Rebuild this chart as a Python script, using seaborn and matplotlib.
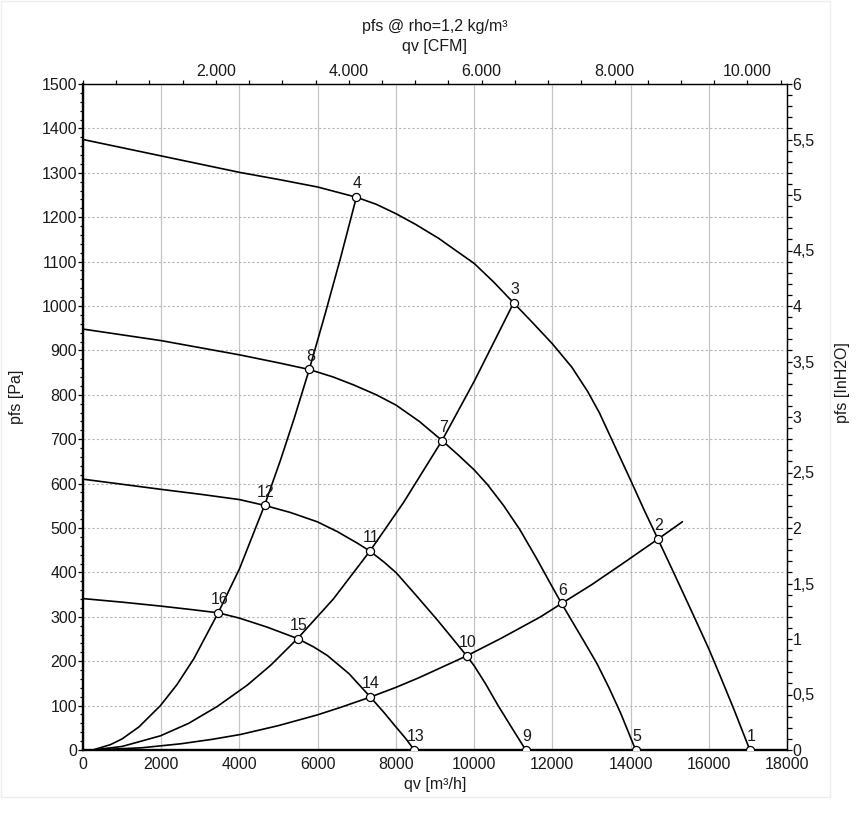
import numpy as np
import pandas as pd
import matplotlib
matplotlib.use("Agg")
import matplotlib.pyplot as plt
from matplotlib.patches import Rectangle
from matplotlib.ticker import MultipleLocator, FixedLocator, FuncFormatter
import seaborn as sns

# ---------------- data ----------------
# fan characteristic curves: qv [m3/h] -> pfs [Pa]
fan1_q = [0, 2000, 4000, 5000, 6000, 6990, 7500, 8000, 8500, 9100, 9500, 10000, 10500, 11010,
          11500, 12000, 12500, 12900, 13200, 13500, 14000, 14350, 14700, 15100, 15600, 16000,
          16300, 16650, 17050]
fan1_p = [1375, 1338, 1301, 1285, 1268, 1245, 1229, 1208, 1184, 1152, 1127, 1096, 1054, 1007,
          962, 915, 862, 808, 760, 703, 608, 540, 475, 400, 305, 228,
          165, 90, 0]

fan2_q = [0, 2000, 4000, 5000, 5785, 6400, 6926, 7500, 8000, 8600, 9180, 9600, 10000, 10340,
          10750, 11165, 11600, 12000, 12236, 12465, 12800, 13145, 13450, 13747, 14130]
fan2_p = [948, 922, 890, 872, 857, 840, 822, 800, 777, 740, 697, 664, 631, 598,
          551, 497, 431, 367, 330, 296, 246, 194, 140, 83, 0]

fan3_q = [0, 2000, 3000, 4000, 4642, 5300, 5990, 6500, 7012, 7336, 7700, 8010, 8500, 9058,
          9450, 9810, 10000, 10300, 10600, 10950, 11320]
fan3_p = [610, 587, 576, 564, 551, 535, 514, 492, 466, 448, 423, 399, 350, 293,
          251, 212, 190, 148, 102, 52, 0]

fan4_q = [0, 1000, 2000, 2800, 3457, 4000, 4700, 5486, 5900, 6245, 6800, 7340, 7700, 8000, 8250, 8470]
fan4_p = [341, 333, 324, 316, 309, 297, 277, 251, 232, 213, 172, 120, 84, 52, 26, 0]

# system curves
sysA_q = [250, 700, 1000, 1430, 1980, 2400, 2830, 3457, 4000, 4642, 5050, 5400, 5785, 6200, 6590, 6990]
sysA_p = [0, 12, 25, 52, 100, 147, 205, 309, 408, 551, 653, 747, 857, 985, 1110, 1245]

sysB_q = [250, 1000, 1982, 2700, 3432, 4199, 4800, 5486, 6400, 7336, 8200, 9180, 10000, 11010]
sysB_p = [0, 8, 32, 60, 98, 146, 191, 251, 340, 448, 558, 697, 830, 1007]

sysC_q = [250, 1500, 2500, 3300, 4028, 5000, 5990, 6586, 7340, 8000, 8595, 9810, 10700, 11700,
          12236, 13000, 13800, 14700, 15325]
sysC_p = [0, 5, 14, 24, 35, 55, 79, 96, 119, 141, 163, 212, 252, 300,
          330, 372, 420, 475, 514]

# operating points
pt_labels = ["1", "2", "3", "4", "5", "6", "7", "8", "9", "10", "11", "12", "13", "14", "15", "16"]
pt_q = [17050, 14700, 11010, 6990, 14130, 12236, 9180, 5785, 11320, 9810, 7336, 4642, 8470, 7340, 5486, 3457]
pt_p = [0, 475, 1007, 1245, 0, 330, 697, 857, 0, 212, 448, 551, 0, 119, 251, 309]

x_ticks = [0, 2000, 4000, 6000, 8000, 10000, 12000, 14000, 16000, 18000]
cfm_ticks = [2000, 4000, 6000, 8000, 10000]

# ---------------- build frame ----------------
curves = {
    "fan1": (fan1_q, fan1_p), "fan2": (fan2_q, fan2_p),
    "fan3": (fan3_q, fan3_p), "fan4": (fan4_q, fan4_p),
    "sysA": (sysA_q, sysA_p), "sysB": (sysB_q, sysB_p), "sysC": (sysC_q, sysC_p),
}
frames = []
for name, (q, p) in curves.items():
    frames.append(pd.DataFrame({"q": q, "p": p, "curve": name}))
df = pd.concat(frames, ignore_index=True)
pts = pd.DataFrame({"q": pt_q, "p": pt_p, "label": pt_labels})

# ---------------- style ----------------
sns.set_theme(style="white")
plt.rcParams['font.family'] = ['Liberation Sans', 'DejaVu Sans']
FS = 11.5
TXT = "#1a1a1a"

fig = plt.figure(figsize=(8.67, 8.19), dpi=100)
fig.patch.set_facecolor("white")
W, H = 867, 819
ax = fig.add_axes([83 / W, 1 - 750 / H, 704 / W, 666 / H])
ax.set_facecolor("white")

# grid
ax.set_xlim(0, 18000)
ax.set_ylim(0, 1500)
ax.xaxis.set_major_locator(FixedLocator(x_ticks))
ax.yaxis.set_major_locator(MultipleLocator(100))
ax.yaxis.set_minor_locator(MultipleLocator(20))
ax.xaxis.grid(True, which="major", color="#c4c4c4", lw=0.9, ls="-", zorder=0)
ax.yaxis.grid(True, which="major", color="#b4b4b4", lw=0.8, ls=(0, (2, 2)), zorder=0)
ax.set_axisbelow(True)

# curves
sns.lineplot(data=df, x="q", y="p", units="curve", estimator=None, sort=False,
             color="black", lw=1.2, ax=ax, legend=False, zorder=3)
for ln in ax.get_lines():
    ln.set_solid_joinstyle("round")

# points
sns.scatterplot(data=pts, x="q", y="p", s=34, color="white", edgecolor="black",
                linewidth=0.9, ax=ax, legend=False, zorder=5)
for q, p, lab in zip(pts["q"], pts["p"], pts["label"]):
    ax.annotate(lab, (q, p), xytext=(0.8, 9.6), textcoords="offset points",
                ha="center", va="center", fontsize=FS, color=TXT, zorder=6)

# spines
for s in ["left", "bottom"]:
    ax.spines[s].set_linewidth(1.7)
    ax.spines[s].set_color("black")
for s in ["top", "right"]:
    ax.spines[s].set_linewidth(0.9)
    ax.spines[s].set_color("black")
    ax.spines[s].set_visible(True)

ax.set_xlabel("")
ax.set_ylabel("")
ax.tick_params(axis="x", which="both", bottom=True, length=0, pad=5.0,
               labelsize=FS, labelcolor=TXT)
ax.tick_params(axis="y", which="major", left=True, direction="out", length=3.8,
               width=0.9, pad=0.6, labelsize=FS, labelcolor=TXT, color="black")
ax.tick_params(axis="y", which="minor", left=True, direction="out", length=2.3,
               width=0.9, color="black")
ax.xaxis.set_major_formatter(FuncFormatter(lambda v, _: f"{int(round(v))}"))
ax.yaxis.set_major_formatter(FuncFormatter(lambda v, _: f"{int(round(v))}"))

# right axis: inH2O
PA_PER_IN = 250.0
sec_y = ax.secondary_yaxis("right", functions=(lambda p: p / PA_PER_IN, lambda v: v * PA_PER_IN))
sec_y.yaxis.set_major_locator(MultipleLocator(0.5))
sec_y.yaxis.set_minor_locator(MultipleLocator(0.1))
def fmt_in(v, _):
    if abs(v - round(v)) < 1e-6:
        return f"{int(round(v))}"
    return f"{v:.1f}".replace(".", ",")
sec_y.yaxis.set_major_formatter(FuncFormatter(fmt_in))
sec_y.tick_params(axis="y", which="major", direction="out", length=3.3, width=0.9,
                  pad=0.8, labelsize=FS, labelcolor=TXT, color="black")
sec_y.tick_params(axis="y", which="minor", direction="out", length=3.3, width=0.9, color="black")
sec_y.spines["right"].set_linewidth(0.9)

# top axis: CFM
M3H_PER_CFM = 1.699
sec_x = ax.secondary_xaxis("top", functions=(lambda q: q / M3H_PER_CFM, lambda c: c * M3H_PER_CFM))
sec_x.xaxis.set_major_locator(FixedLocator(cfm_ticks))
sec_x.xaxis.set_minor_locator(MultipleLocator(500))
sec_x.xaxis.set_major_formatter(FuncFormatter(lambda v, _: f"{int(round(v)):,}".replace(",", ".")))
sec_x.tick_params(axis="x", which="major", direction="out", length=2.6, width=0.9,
                  pad=1.2, labelsize=FS, labelcolor=TXT, color="black")
sec_x.tick_params(axis="x", which="minor", direction="out", length=2.6, width=0.9, color="black")
sec_x.spines["top"].set_linewidth(0.9)

# texts
fig.text(435 / W, 1 - 27 / H, "pfs @ rho=1,2 kg/m³", ha="center", va="center", fontsize=FS, color=TXT)
fig.text(435 / W, 1 - 47 / H, "qv [CFM]", ha="center", va="center", fontsize=FS, color=TXT)
fig.text(435 / W, 1 - 784 / H, "qv [m³/h]", ha="center", va="center", fontsize=FS, color=TXT)
fig.text(17 / W, 1 - 397 / H, "pfs [Pa]", ha="center", va="center", rotation=90, fontsize=FS, color=TXT)
fig.text(842 / W, 1 - 383 / H, "pfs [InH2O]", ha="center", va="center", rotation=90, fontsize=FS, color=TXT)

# faint outer frame
fig.add_artist(Rectangle((0.5 / W, 1 - 797 / H), 829 / W, 796.5 / H, transform=fig.transFigure,
                         fill=False, ec="#eeeeee", lw=1.0))

fig.savefig("out.png", dpi=100, facecolor="white")
